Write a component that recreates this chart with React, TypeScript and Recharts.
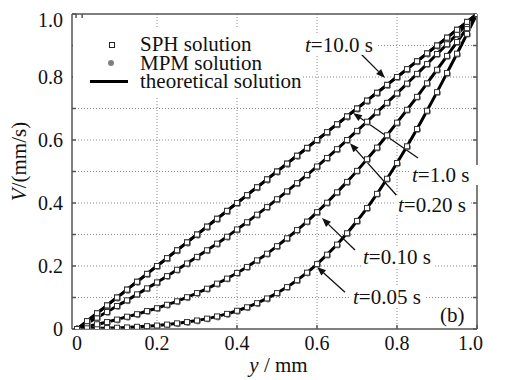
import {
  CartesianGrid,
  ComposedChart,
  Line,
  ReferenceDot,
  ReferenceLine,
  Scatter,
  XAxis,
  YAxis
} from 'recharts'

// y positions across the gap (mm)
const Y_POS = [
  0, 0.025, 0.05, 0.075, 0.1, 0.125, 0.15, 0.175, 0.2, 0.225, 0.25, 0.275,
  0.3, 0.325, 0.35, 0.375, 0.4, 0.425, 0.45, 0.475, 0.5, 0.525, 0.55, 0.575,
  0.6, 0.625, 0.65, 0.675, 0.7, 0.725, 0.75, 0.775, 0.8, 0.825, 0.85, 0.875,
  0.9, 0.925, 0.95, 0.975, 1
]

// velocity profiles V (mm/s) at each time
const V_T005 = [
  0, 0.001, 0.002, 0.003, 0.004, 0.005, 0.007, 0.009, 0.011, 0.014, 0.018,
  0.022, 0.027, 0.033, 0.04, 0.048, 0.058, 0.069, 0.082, 0.097, 0.114, 0.133,
  0.155, 0.179, 0.206, 0.236, 0.268, 0.304, 0.343, 0.384, 0.429, 0.477, 0.527,
  0.58, 0.635, 0.693, 0.752, 0.813, 0.874, 0.937, 1
]
const V_T010 = [
  0, 0.007, 0.015, 0.022, 0.03, 0.039, 0.047, 0.057, 0.066, 0.077, 0.088,
  0.101, 0.114, 0.128, 0.144, 0.16, 0.178, 0.197, 0.218, 0.239, 0.263, 0.288,
  0.314, 0.341, 0.371, 0.401, 0.434, 0.467, 0.502, 0.539, 0.576, 0.615, 0.655,
  0.696, 0.737, 0.78, 0.823, 0.867, 0.911, 0.955, 1
]
const V_T020 = [
  0, 0.018, 0.036, 0.054, 0.073, 0.091, 0.11, 0.129, 0.148, 0.168, 0.188,
  0.208, 0.229, 0.25, 0.271, 0.293, 0.316, 0.339, 0.363, 0.387, 0.412, 0.437,
  0.463, 0.489, 0.516, 0.543, 0.571, 0.6, 0.629, 0.658, 0.688, 0.718, 0.748,
  0.779, 0.81, 0.841, 0.873, 0.904, 0.936, 0.968, 1
]
const V_T100 = [
  0, 0.025, 0.05, 0.075, 0.1, 0.125, 0.15, 0.175, 0.2, 0.225, 0.25, 0.275,
  0.3, 0.325, 0.35, 0.375, 0.4, 0.425, 0.45, 0.475, 0.5, 0.525, 0.55, 0.575,
  0.6, 0.625, 0.65, 0.675, 0.7, 0.725, 0.75, 0.775, 0.8, 0.825, 0.85, 0.875,
  0.9, 0.925, 0.95, 0.975, 1
]
const V_T1000 = [
  0, 0.025, 0.05, 0.075, 0.1, 0.125, 0.15, 0.175, 0.2, 0.225, 0.25, 0.275,
  0.3, 0.325, 0.35, 0.375, 0.4, 0.425, 0.45, 0.475, 0.5, 0.525, 0.55, 0.575,
  0.6, 0.625, 0.65, 0.675, 0.7, 0.725, 0.75, 0.775, 0.8, 0.825, 0.85, 0.875,
  0.9, 0.925, 0.95, 0.975, 1
]

const SERIES_KEYS = ['t005', 't010', 't020', 't100', 't1000']

const X_TICKS = [0, 0.2, 0.4, 0.6, 0.8, 1]
const V_TICKS = [0, 0.1, 0.2, 0.3, 0.4, 0.5, 0.6, 0.7, 0.8, 0.9, 1]

// curve labels with arrows (data coordinates)
const ANNOTATIONS = [
  { text: '=10.0 s', x: 0.57, v: 0.902, from: [0.7075, 0.876], to: [0.77, 0.797] },
  { text: '=1.0 s', x: 0.8375, v: 0.489, from: [0.8525, 0.543], to: [0.69, 0.686] },
  { text: '=0.20 s', x: 0.8025, v: 0.394, from: [0.8025, 0.419], to: [0.6825, 0.59] },
  { text: '=0.10 s', x: 0.715, v: 0.229, from: [0.695, 0.251], to: [0.6125, 0.352] },
  { text: '=0.05 s', x: 0.69, v: 0.102, from: [0.67, 0.117], to: [0.6, 0.197] }
]

const FONT = '"Liberation Serif", "Times New Roman", Times, "DejaVu Serif", serif'
const FRAME = '#555'
const INK = '#111'

const data = Y_POS.map((y, i) => ({
  y,
  t005: V_T005[i],
  t010: V_T010[i],
  t020: V_T020[i],
  t100: V_T100[i],
  t1000: V_T1000[i]
}))

const fmt = (v: number) => (v === 0 ? '0' : v.toFixed(1))
const fmtV = (v: number) => {
  const k = Math.round(v * 10)
  if (k % 2 !== 0) return ''
  return k === 0 ? '0' : v.toFixed(1)
}

const Square = (p: any) => {
  if (p.cx == null || p.cy == null) return <g />
  return (
    <rect
      x={p.cx - 2.5}
      y={p.cy - 2.5}
      width={5}
      height={5}
      fill='#fff'
      stroke='#333'
      strokeWidth={1}
    />
  )
}

const GrayDot = (p: any) => {
  if (p.cx == null || p.cy == null) return <g />
  return <circle cx={p.cx + 1} cy={p.cy + 1} r={3} fill='#808080' />
}

const Arrow = (p: any) => {
  const { x1, y1, x2, y2 } = p
  if (x1 == null) return <g />
  const a = Math.atan2(y2 - y1, x2 - x1)
  const L = 9
  const W = 3.5
  const bx = x2 - L * Math.cos(a)
  const by = y2 - L * Math.sin(a)
  const pts = `${x2},${y2} ${bx - W * Math.sin(a)},${by + W * Math.cos(a)} ${bx + W * Math.sin(a)},${by - W * Math.cos(a)}`
  return (
    <g>
      <line x1={x1} y1={y1} x2={bx} y2={by} stroke={INK} strokeWidth={1.3} />
      <polygon points={pts} fill={INK} />
    </g>
  )
}

const curveLabel = (text: string, italic: string | null) => (p: any) => {
  const vb = p.viewBox || {}
  const x = vb.x + (vb.width || 0) / 2
  const y = vb.y + (vb.height || 0) / 2
  const w = italic ? 74 : 29
  return (
    <g>
      <rect x={x - 2} y={y - 10} width={w} height={20} fill='#fff' />
      <text
        x={x}
        y={y}
        dominantBaseline='central'
        fontFamily={FONT}
        fontSize={21}
        fill={INK}
      >
        {italic && <tspan fontStyle='italic'>{italic}</tspan>}
        <tspan>{text}</tspan>
      </text>
    </g>
  )
}

const yTitle = (p: any) => {
  const vb = p.viewBox
  const x = vb.x + 11
  const y = vb.y + vb.height / 2 - 10
  return (
    <text
      x={x}
      y={y}
      transform={`rotate(-90 ${x} ${y})`}
      textAnchor='middle'
      dominantBaseline='central'
      fontFamily={FONT}
      fontSize={21}
      fill={INK}
    >
      <tspan fontStyle='italic'>V</tspan>
      <tspan>/(mm/s)</tspan>
    </text>
  )
}

const xTitle = (p: any) => {
  const vb = p.viewBox
  const x = vb.x + vb.width / 2 + 4
  const y = vb.y + 36
  return (
    <text
      x={x}
      y={y}
      textAnchor='middle'
      dominantBaseline='central'
      fontFamily={FONT}
      fontSize={21}
      fill={INK}
    >
      <tspan fontStyle='italic'>y</tspan>
      <tspan> / mm</tspan>
    </text>
  )
}

const tickStyle = { fontSize: 20, fill: INK, fontFamily: FONT }

const legendText = (top: number) => ({
  position: 'absolute' as const,
  left: 67,
  top,
  lineHeight: '18px',
  whiteSpace: 'nowrap' as const
})

export default function App () {
  return (
    <div style={{ position: 'relative', width: 475, height: 372 }}>
      <ComposedChart
        width={475}
        height={372}
        data={data}
        margin={{ top: 5, right: 5, bottom: 6, left: 0 }}
      >
        <CartesianGrid
          stroke='#8a8a8a'
          strokeDasharray='1 2'
          verticalValues={[0.2, 0.4, 0.6, 0.8]}
          horizontalValues={[0.1, 0.2, 0.3, 0.4, 0.5, 0.6, 0.7, 0.8, 0.9]}
        />
        <XAxis
          dataKey='y'
          type='number'
          domain={[-0.0125, 1]}
          ticks={X_TICKS}
          tickFormatter={fmt}
          tick={tickStyle}
          tickSize={-4}
          tickMargin={11}
          stroke={FRAME}
          strokeWidth={1.5}
          height={45}
          allowDataOverflow
          label={{ content: xTitle }}
        />
        <XAxis
          xAxisId='top'
          orientation='top'
          type='number'
          domain={[-0.0125, 1]}
          ticks={X_TICKS}
          tickFormatter={() => ''}
          tickSize={-4}
          stroke={FRAME}
          strokeWidth={1.5}
          height={1}
          allowDataOverflow
        />
        <YAxis
          type='number'
          domain={[0, 1]}
          ticks={V_TICKS}
          tickFormatter={fmtV}
          tick={tickStyle}
          tickSize={-4}
          tickMargin={13}
          stroke={FRAME}
          strokeWidth={1.5}
          width={64}
          allowDataOverflow
          label={{ content: yTitle }}
        />
        <YAxis
          yAxisId='right'
          orientation='right'
          type='number'
          domain={[0, 1]}
          ticks={V_TICKS}
          tickFormatter={() => ''}
          tickSize={-4}
          stroke={FRAME}
          strokeWidth={1.5}
          width={1}
          allowDataOverflow
        />
        {SERIES_KEYS.map(k => (
          <Scatter
            key={'mpm' + k}
            dataKey={k}
            shape={GrayDot}
            isAnimationActive={false}
          />
        ))}
        {SERIES_KEYS.map(k => (
          <Scatter
            key={'sph' + k}
            dataKey={k}
            shape={Square}
            isAnimationActive={false}
          />
        ))}
        {SERIES_KEYS.map(k => (
          <Line
            key={'th' + k}
            dataKey={k}
            type='monotone'
            stroke='#000'
            strokeWidth={3}
            dot={false}
            activeDot={false}
            isAnimationActive={false}
          />
        ))}
        {ANNOTATIONS.map((a, i) => (
          <ReferenceLine
            key={'ar' + i}
            segment={[
              { x: a.from[0], y: a.from[1] },
              { x: a.to[0], y: a.to[1] }
            ]}
            shape={Arrow}
            ifOverflow='visible'
          />
        ))}
        {ANNOTATIONS.map((a, i) => (
          <ReferenceDot
            key={'lb' + i}
            x={a.x}
            y={a.v}
            r={0}
            fill='none'
            stroke='none'
            label={curveLabel(a.text, 't')}
          />
        ))}
        <ReferenceDot
          x={0.9075}
          y={0.044}
          r={0}
          fill='none'
          stroke='none'
          label={curveLabel('(b)', null)}
        />
      </ComposedChart>
      <div
        style={{
          position: 'absolute',
          left: 65,
          top: 19,
          width: 230,
          height: 70,
          background: '#fff',
          fontFamily: FONT,
          fontSize: 21,
          color: INK
        }}
      >
        <div
          style={{
            position: 'absolute',
            left: 36,
            top: 15,
            width: 4,
            height: 4,
            border: '1px solid #222'
          }}
        />
        <div
          style={{
            position: 'absolute',
            left: 35,
            top: 33,
            width: 6,
            height: 6,
            borderRadius: 3,
            background: '#808080'
          }}
        />
        <div
          style={{
            position: 'absolute',
            left: 17,
            top: 53,
            width: 38,
            height: 3,
            background: '#000'
          }}
        />
        <div style={legendText(8)}>SPH solution</div>
        <div style={legendText(27)}>MPM solution</div>
        <div style={legendText(45)}>theoretical solution</div>
      </div>
    </div>
  )
}
